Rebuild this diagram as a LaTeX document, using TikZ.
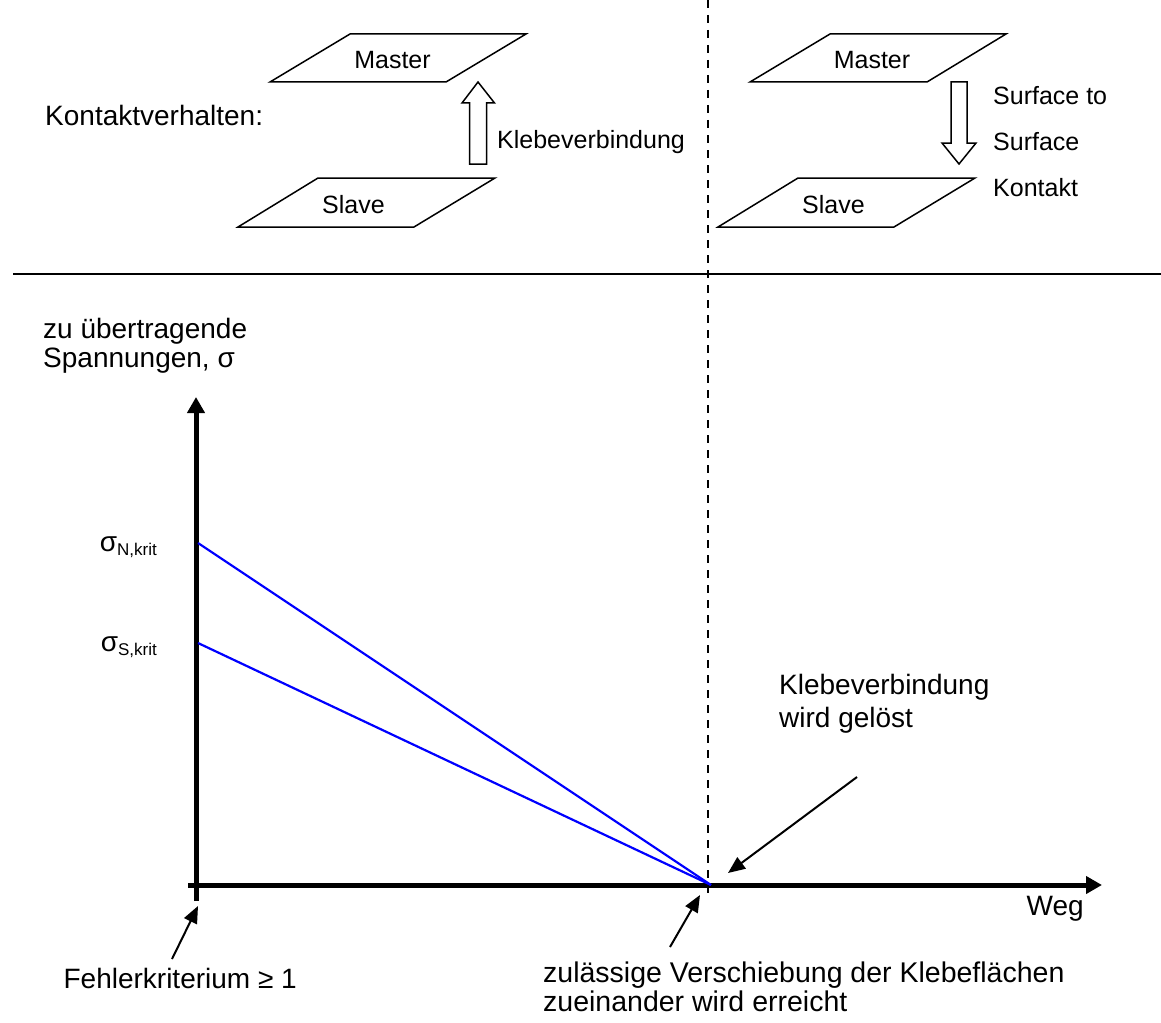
\documentclass[tikz,border=0pt]{standalone}
\usepackage{fontspec}
\setmainfont{Liberation Sans}
\usetikzlibrary{arrows.meta}
\begin{document}
\begin{tikzpicture}[x=1pt,y=-1pt,
  plate/.style={draw=black,line width=1.5pt,line join=miter,fill=white},
  blockarrow/.style={draw=black,line width=1.5pt,line join=miter,fill=white},
  axisline/.style={line width=5pt,-{Triangle[length=16pt,width=17pt]}},
  pointer/.style={line width=2pt,-{Triangle[length=17pt,width=14pt]}},
  stressline/.style={draw=blue,line width=2.2pt},
  divider/.style={line width=2pt},
  dashline/.style={line width=1.5pt,dash pattern=on 8pt off 7pt},
  smalltext/.style={font=\fontsize{25}{46}\selectfont,inner sep=0pt},
  bigtext/.style={font=\fontsize{28}{29}\selectfont,inner sep=0pt},
]
\useasboundingbox (0,0) rectangle (1161,1022);
\lineskiplimit=-100pt

% separators
\draw[dashline] (708,0) coordinate (dtop) -- (708,897) coordinate (dbot);
\draw[divider] (13,274) coordinate (hl) -- (1161,274) coordinate (hr);

% top left plates
\draw[plate] (350,34) -- (526,34) -- (446,82) -- (270,82) -- cycle;
\node[smalltext,anchor=base] (m1) at (392.5,69) {Master};
\draw[plate] (318,178) -- (495,178) -- (414,227) -- (238,227) -- cycle;
\node[smalltext,anchor=base] (s1) at (353.5,213) {Slave};
\draw[blockarrow] (469.5,164) -- (469.5,103) -- (462,103) -- (478,82) -- (494.5,103) -- (486.5,103) -- (486.5,164) -- cycle;
\node[smalltext,anchor=base west] (kv1) at (497,148) {Klebeverbindung};

% top right plates
\draw[plate] (830,34) -- (1006,34) -- (927,82) -- (750,82) -- cycle;
\node[smalltext,anchor=base] (m2) at (872,69) {Master};
\draw[plate] (798,178) -- (975,178) -- (894,227) -- (718,227) -- cycle;
\node[smalltext,anchor=base] (s2) at (833.5,213) {Slave};
\draw[blockarrow] (951,82) -- (951,143) -- (942,143) -- (959,164) -- (976,143) -- (967,143) -- (967,82) -- cycle;
\node[smalltext,anchor=base west] (sts) at (993,105) {\vtop{\hbox{Surface to}\hbox{Surface}\hbox{Kontakt}}};

\node[bigtext,anchor=base west] (kvh) at (45,125) {Kontaktverhalten:};

% diagram
\node[bigtext,anchor=base west] (ylab) at (43,338) {\vtop{\hbox{zu übertragende}\hbox{Spannungen, σ}}};
\draw[axisline] (196,901) coordinate (ybot) -- (196,397) coordinate (ytop);
\draw[axisline] (188,885) coordinate (xl) -- (1102,885) coordinate (xr);
\node[bigtext,anchor=base east] (weg) at (1084,915) {Weg};

\coordinate (sN) at (198,543);
\coordinate (sS) at (198,643);
\coordinate (meet) at (711,885);
\draw[stressline] (sN) -- (meet);
\draw[stressline] (sS) -- (meet);
\node[anchor=base east,inner sep=0pt] (lN) at (157,551) {{\fontsize{28}{30}\selectfont σ}\raisebox{-4pt}{\fontsize{17}{20}\selectfont N,krit}};
\node[anchor=base east,inner sep=0pt] (lS) at (157,651) {{\fontsize{28}{30}\selectfont σ}\raisebox{-4pt}{\fontsize{17}{20}\selectfont S,krit}};

\node[bigtext,anchor=base west] (geloest) at (779,694) {\vtop{\fontsize{28}{33}\selectfont\hbox{Klebeverbindung}\hbox{wird gelöst}}};
\coordinate (p1a) at (857,777);
\coordinate (p1b) at (728,873);
\draw[pointer] (p1a) -- (p1b);

\node[bigtext,anchor=base east] (fehler) at (297,988) {Fehlerkriterium ≥ 1};
\coordinate (p2a) at (172,959);
\coordinate (p2b) at (198,906);
\draw[pointer] (p2a) -- (p2b);

\node[anchor=base west,inner sep=0pt] (zul) at (543,982) {\vtop{\fontsize{28.5}{29}\selectfont\hbox{zulässige Verschiebung der Klebeflächen}\hbox{zueinander wird erreicht}}};
\coordinate (p3a) at (670,947);
\coordinate (p3b) at (700,895);
\draw[pointer] (p3a) -- (p3b);
\end{tikzpicture}
\end{document}
